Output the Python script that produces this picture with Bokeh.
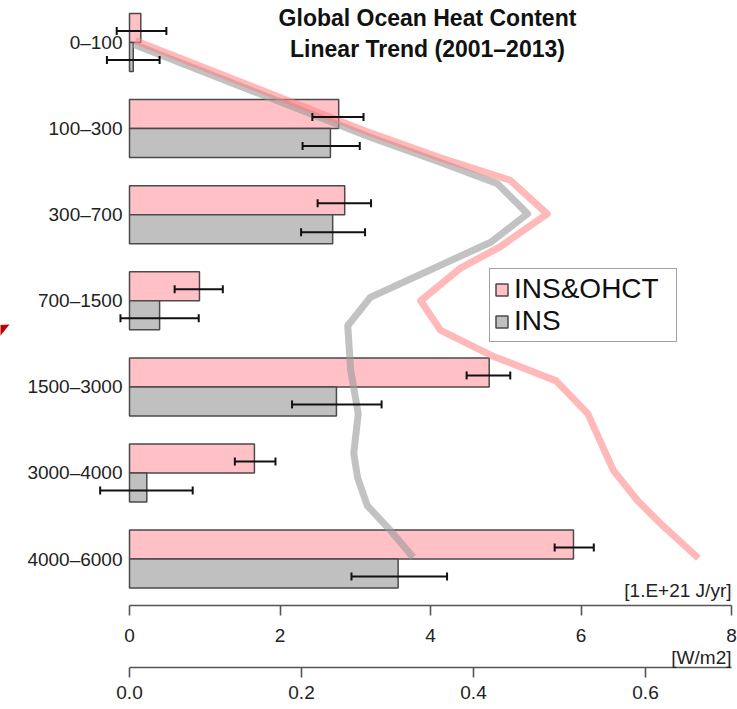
import math
from bokeh.plotting import figure
from bokeh.models import (Range1d, LinearAxis, FixedTicker, Legend, LegendItem,
                          ColumnDataSource, Label, NumeralTickFormatter, Title)
from bokeh.embed import file_html
from bokeh.resources import INLINE
from bokeh.core.properties import value

# ---------------- data ----------------
categories = ["0–100", "100–300", "300–700", "700–1500", "1500–3000", "3000–4000", "4000–6000"]

# trend, 1.E+21 J/yr
ins_ohct = [0.15, 2.78, 2.86, 0.93, 4.78, 1.66, 5.90]
ins_ohct_lo = [-0.17, 2.43, 2.50, 0.60, 4.48, 1.40, 5.65]
ins_ohct_hi = [0.49, 3.11, 3.21, 1.24, 5.06, 1.94, 6.17]

ins = [0.05, 2.67, 2.70, 0.40, 2.75, 0.23, 3.57]
ins_lo = [-0.30, 2.30, 2.28, -0.12, 2.16, -0.39, 2.95]
ins_hi = [0.40, 3.06, 3.13, 0.92, 3.35, 0.84, 4.22]

# profile curves (x in 1.E+21 J/yr, y in layer-index units)
prof_ohct_x = [0.08, 3.20, 4.13, 5.06, 5.55, 4.93, 4.40, 3.87, 4.13, 4.82, 5.67, 6.09, 6.43, 6.75, 7.06, 7.56]
prof_ohct_y = [-0.02, 1.05, 1.34, 1.60, 1.99, 2.37, 2.62, 3.00, 3.34, 3.64, 3.93, 4.31, 4.97, 5.32, 5.59, 5.99]
prof_ins_x = [0.05, 3.20, 4.13, 4.89, 5.29, 4.80, 3.20, 2.90, 2.94, 3.04, 2.98, 3.03, 3.16, 3.47, 3.77]
prof_ins_y = [0.02, 1.10, 1.39, 1.64, 1.99, 2.32, 2.96, 3.29, 3.81, 4.31, 4.77, 5.05, 5.38, 5.67, 5.98]

# stray red arrow tip at the left edge
arrow_x = [-1.80, -1.595, -1.80]
arrow_y = [3.287, 3.275, 3.50]

x_ticks = [0, 2, 4, 6, 8]
wm2_ticks = [0.0, 0.2, 0.4, 0.6]
X_MAX = 8.0
WM2_MAX = 0.7

title_lines = ["Global Ocean Heat Content", "Linear Trend (2001–2013)"]
unit_top = "[1.E+21 J/yr]"
unit_bottom = "[W/m2]"

# ---------------- styling ----------------
FONT = "Liberation Sans"
PINK = "#ffc0c6"
GRAY = "#c0c0c0"
EDGE = "#4a4a4a"
TXT = "#222222"
BAR_H = 0.337
X0 = -1.7143

n = len(categories)
idx = list(range(n))

p = figure(frame_width=731, frame_height=605,
           x_range=Range1d(X0, X_MAX), y_range=Range1d(6.539, -0.4878),
           output_backend="svg", toolbar_location=None,
           x_axis_location=None, y_axis_location=None,
           min_border_left=0, min_border_right=6, min_border_top=0, min_border_bottom=0)
p.outline_line_color = None
p.xgrid.visible = False
p.ygrid.visible = False
p.background_fill_color = "white"
p.border_fill_color = "white"

p.extra_x_ranges = {"wm2": Range1d(X0 * WM2_MAX / X_MAX, WM2_MAX)}

def style_axis(ax):
    ax.axis_line_color = "#555555"
    ax.axis_line_width = 1.6
    ax.major_tick_line_color = "#555555"
    ax.major_tick_line_width = 1.6
    ax.major_tick_out = 10
    ax.major_tick_in = 0
    ax.minor_tick_line_color = None
    ax.major_label_text_font = FONT
    ax.major_label_text_font_size = "19px"
    ax.major_label_text_color = TXT

ax1 = LinearAxis(ticker=FixedTicker(ticks=x_ticks), bounds=(0, X_MAX))
style_axis(ax1)
ax1.major_label_standoff = 13
p.add_layout(ax1, "below")

# right-aligned unit caption between the two axes
unit_title = Title(text=unit_bottom, align="right", text_font=FONT, text_font_size="19px",
                   text_font_style="normal", text_color=TXT, standoff=0, offset=0)
p.add_layout(unit_title, "below")

ax2 = LinearAxis(x_range_name="wm2", ticker=FixedTicker(ticks=wm2_ticks),
                 bounds=(0, WM2_MAX), formatter=NumeralTickFormatter(format="0.0"))
style_axis(ax2)
ax2.major_label_standoff = 8
p.add_layout(ax2, "below")

# bars
src_p = ColumnDataSource(dict(y=[i - BAR_H / 2 for i in idx], v=ins_ohct))
src_g = ColumnDataSource(dict(y=[i + BAR_H / 2 for i in idx], v=ins))
r_pink = p.hbar(y="y", height=BAR_H, left=0, right="v", source=src_p,
                fill_color=PINK, line_color=EDGE, line_width=1.5)
r_gray = p.hbar(y="y", height=BAR_H, left=0, right="v", source=src_g,
                fill_color=GRAY, line_color=EDGE, line_width=1.5)

# profile lines
p.line(prof_ins_x, prof_ins_y, line_width=7, line_color="#9a9a9a", line_alpha=0.6, line_join="round")
p.line(prof_ohct_x, prof_ohct_y, line_width=7, line_color="#ff8080", line_alpha=0.55, line_join="round")

# error bars
off = 0.035
for lo, hi, yc in ((ins_ohct_lo, ins_ohct_hi, [i - BAR_H / 2 + off for i in idx]),
                   (ins_lo, ins_hi, [i + BAR_H / 2 + off for i in idx])):
    p.segment(x0=lo, y0=yc, x1=hi, y1=yc, line_color="#111111", line_width=2)
    p.scatter(x=lo + hi, y=yc + yc, marker="dash", angle=math.pi / 2, size=8,
              line_color="#111111", line_width=2)

# stray arrow
p.patch(arrow_x, arrow_y, fill_color="#c00000", line_color=None)

# category labels
p.text(x=[-0.093] * n, y=idx, text=categories, text_align="right", text_baseline="middle",
       text_font=value(FONT), text_font_size="19px", text_color=TXT)

# title
p.text(x=[3.96, 3.96], y=[-0.279, 0.07], text=title_lines, text_align="center",
       text_baseline="middle", text_font=value(FONT), text_font_size="23px",
       text_font_style="bold", text_color="#111111")

# unit label above upper axis
p.add_layout(Label(x=X_MAX, y=6.365, text=unit_top, text_align="right", text_baseline="middle",
                   text_font=FONT, text_font_size="19px", text_color=TXT))

legend = Legend(items=[LegendItem(label="INS&OHCT", renderers=[r_pink]),
                       LegendItem(label="INS", renderers=[r_gray])],
                location=(489, 263), orientation="vertical")
legend.label_text_font = FONT
legend.label_text_font_size = "28px"
legend.label_text_color = "#111111"
legend.glyph_width = 15
legend.glyph_height = 15
legend.label_standoff = 5
legend.label_width = 158
legend.padding = 4
legend.spacing = 0
legend.margin = 0
legend.border_line_color = "#444444"
legend.border_line_width = 1
legend.background_fill_color = "white"
legend.background_fill_alpha = 1.0
p.add_layout(legend)

open("out.html", "w").write(file_html(p, INLINE))
